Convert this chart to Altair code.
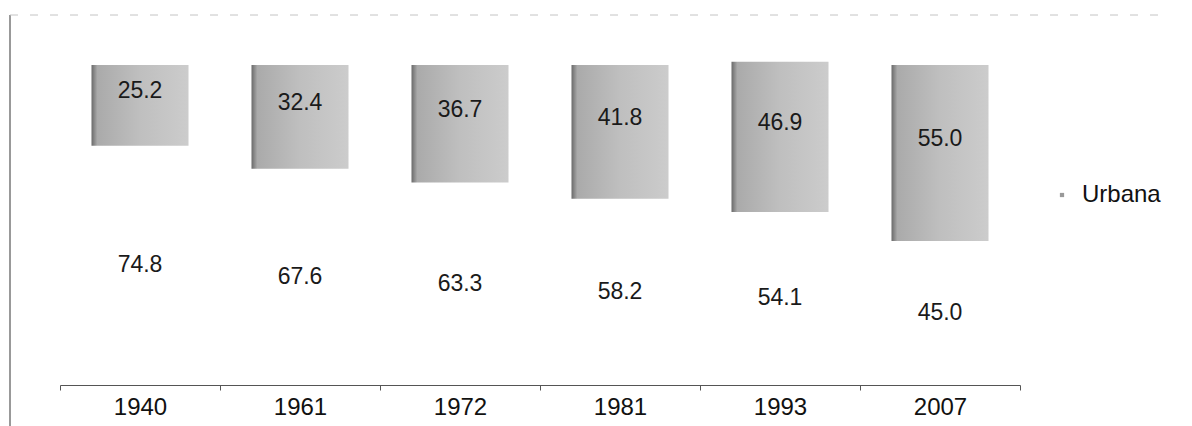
import altair as alt
import pandas as pd

years = ["1940", "1961", "1972", "1981", "1993", "2007"]
urbana = [25.2, 32.4, 36.7, 41.8, 46.9, 55.0]
rural = [74.8, 67.6, 63.3, 58.2, 54.1, 45.0]
series = ["Rural", "Urbana"]
legend_labels = ["Urbana"]

rows = []
for y, r, u in zip(years, rural, urbana):
    rows.append({"year": y, "tipo": "Rural", "value": r, "ord": 0, "label": f"{r:.1f}"})
    rows.append({"year": y, "tipo": "Urbana", "value": u, "ord": 1, "label": f"{u:.1f}"})
df = pd.DataFrame(rows)

W, H = 960, 320
FONT = "Liberation Sans"

base = alt.Chart(df).transform_stack(
    stack="value", as_=["v0", "v1"], groupby=["year"], sort=[alt.SortField("ord", order="ascending")]
).transform_calculate(mid="(datum.v0 + datum.v1) / 2")

xenc = alt.X("year:N", sort=years, title=None,
             scale=alt.Scale(paddingInner=0, paddingOuter=0),
             axis=alt.Axis(labelAngle=0, labelFontSize=24, labelFont=FONT, labelColor="#111",
                           domainColor="#555", domainWidth=1.2, tickColor="#555", tickSize=5,
                           tickBand="extent", labelPadding=5, grid=False))
yscale = alt.Scale(domain=[0, 100])

grad = alt.Gradient(gradient="linear", x1=0, x2=1, y1=0, y2=0,
                    stops=[alt.GradientStop(color="#6a6a6a", offset=0),
                           alt.GradientStop(color="#aaaaaa", offset=0.06),
                           alt.GradientStop(color="#bfbfbf", offset=0.5),
                           alt.GradientStop(color="#cccccc", offset=1)])

rural_bars = base.transform_filter(alt.datum.tipo == "Rural").mark_bar(fill="#ffffff", size=97).encode(
    x=xenc, y=alt.Y("v0:Q", scale=yscale, axis=None), y2="v1:Q")

urb_bars = base.transform_filter(alt.datum.tipo == "Urbana").mark_bar(fill=grad, size=97).encode(
    x=xenc, y=alt.Y("v0:Q", scale=yscale, axis=None), y2="v1:Q")

legend_layer = base.transform_filter(alt.datum.tipo == "Urbana").mark_square(opacity=0, size=10).encode(
    x=xenc, y=alt.Y("mid:Q", scale=yscale, axis=None),
    color=alt.Color("tipo:N", scale=alt.Scale(domain=legend_labels, range=["#999999"]),
                    legend=alt.Legend(title=None, orient="none", legendX=990, legendY=118,
                                      labelFontSize=24, labelFont=FONT, labelColor="#111",
                                      symbolType="square", symbolSize=18, symbolOpacity=1,
                                      labelOffset=8)))

urb_texts = base.transform_filter(alt.datum.tipo == "Urbana").mark_text(
    fontSize=23, font=FONT, color="#1a1a1a", dy=-14).encode(
    x=xenc, y=alt.Y("mid:Q", scale=yscale, axis=None), text="label:N")
rur_texts = base.transform_filter(alt.datum.tipo == "Rural").mark_text(
    fontSize=23, font=FONT, color="#1a1a1a", dy=0).encode(
    x=xenc, y=alt.Y("mid:Q", scale=yscale, axis=None), text="label:N")

frame_left = alt.Chart(pd.DataFrame({"k": [0]})).mark_rule(color="#777", strokeWidth=1.5).encode(
    x=alt.value(-50), y=alt.value(-50), y2=alt.value(H + 50))
frame_top = alt.Chart(pd.DataFrame({"k": [0]})).mark_rule(color="#c4c4c4", strokeWidth=1, strokeDash=[8, 12]).encode(
    x=alt.value(-50), x2=alt.value(W + 150), y=alt.value(-50))

chart = alt.layer(rural_bars, urb_bars, urb_texts, rur_texts, legend_layer, frame_left, frame_top).properties(
    width=W, height=H,
    autosize=alt.AutoSizeParams(type="none"),
    padding={"left": 52, "top": 57, "right": 164, "bottom": 50},
).configure(background="white").configure_view(stroke=None)

chart.save("out.html", embed_options={"renderer": "svg", "actions": False})
